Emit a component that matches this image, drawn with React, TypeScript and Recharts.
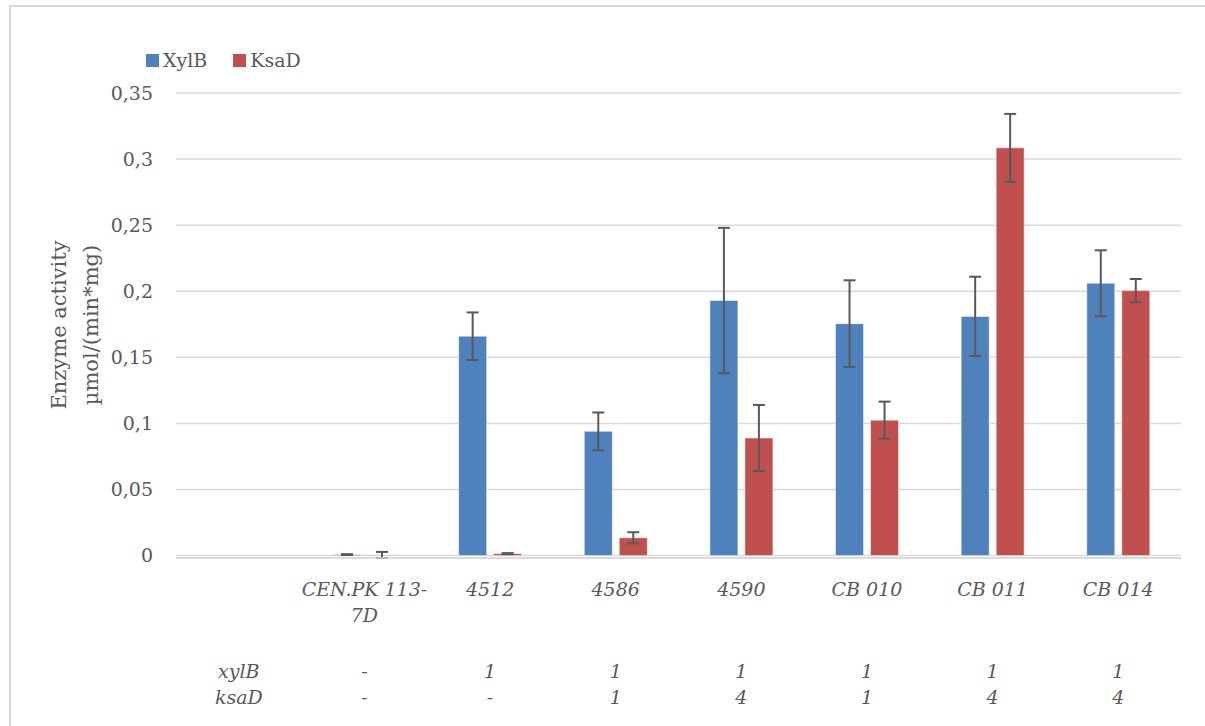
import { BarChart, Bar, XAxis, YAxis, CartesianGrid, ErrorBar } from 'recharts'

// Strains along the x axis (first slot is left empty for the row captions)
const categories = ['', 'CEN.PK 113-7D', '4512', '4586', '4590', 'CB 010', 'CB 011', 'CB 014']
const categoryLines = [[''], ['CEN.PK 113-', '7D'], ['4512'], ['4586'], ['4590'], ['CB 010'], ['CB 011'], ['CB 014']]

// Enzyme activity, µmol/(min*mg)
const xylBValues = [null, 0.0008, 0.166, 0.094, 0.193, 0.1755, 0.181, 0.206]
const xylBErrors = [null, 0.0003, 0.018, 0.0143, 0.055, 0.0328, 0.03, 0.025]
const ksaDValues = [null, 0.0005, 0.0015, 0.0135, 0.089, 0.1025, 0.3085, 0.2005]
const ksaDErrors = [null, 0.0023, 0.0004, 0.0042, 0.025, 0.014, 0.0257, 0.0088]

// Gene copy table under the axis
const rowLabels = ['xylB', 'ksaD']
const xylBCopies = ['', '-', '1', '1', '1', '1', '1', '1']
const ksaDCopies = ['', '-', '-', '1', '4', '1', '4', '4']

const yTicks = [0, 0.05, 0.1, 0.15, 0.2, 0.25, 0.3, 0.35]

const BLUE = '#4F81BD'
const RED = '#C0504D'
const TEXT = '#595959'
const GRID = '#d9d9d9'
const FONT = '"DejaVu Serif", serif'

const data = categories.map((name, i) => ({
  name,
  xylB: xylBValues[i],
  xylBErr: xylBErrors[i],
  ksaD: ksaDValues[i],
  ksaDErr: ksaDErrors[i],
}))

function StrainTick(props: any) {
  const { x, y, payload } = props
  const i = payload.index
  const lines = categoryLines[i]
  const first = i === 0
  return (
    <g fontFamily={FONT} fontSize={19} fontStyle="italic" fill={TEXT} textAnchor="middle">
      {lines.map((l, k) => (
        <text key={k} x={x} y={y + 38 + k * 26}>{l}</text>
      ))}
      <text x={x} y={y + 120}>{first ? rowLabels[0] : xylBCopies[i]}</text>
      <text x={x} y={y + 146}>{first ? rowLabels[1] : ksaDCopies[i]}</text>
    </g>
  )
}

function LegendBox() {
  const items = [
    { label: 'XylB', color: BLUE },
    { label: 'KsaD', color: RED },
  ]
  return (
    <div style={{ position: 'absolute', left: 146, top: 49, display: 'flex', alignItems: 'center', fontFamily: FONT, fontSize: 19, color: TEXT }}>
      {items.map(it => (
        <div key={it.label} style={{ display: 'flex', alignItems: 'center', marginRight: 26 }}>
          <span style={{ width: 13, height: 13, background: it.color, display: 'inline-block', marginRight: 4 }} />
          <span>{it.label}</span>
        </div>
      ))}
    </div>
  )
}

export default function App() {
  return (
    <div style={{ position: 'fixed', left: 0, top: 0, width: 1205, height: 726, background: '#fff', overflow: 'hidden' }}>
      <div style={{ position: 'absolute', left: 9, top: 5, width: 1210, height: 740, border: `2px solid ${GRID}` }} />
      <div style={{ position: 'absolute', left: 0, top: 0 }}>
        <BarChart
          width={1205}
          height={726}
          data={data}
          margin={{ top: 93, right: 24, bottom: 138, left: 0 }}
          barCategoryGap="25%"
          barGap={7}
        >
          <CartesianGrid vertical={false} stroke={GRID} strokeWidth={1.5} />
          <XAxis
            dataKey="name"
            height={30}
            tick={<StrainTick />}
            tickSize={0}
            tickMargin={0}
            interval={0}
            axisLine={{ stroke: GRID, strokeWidth: 1.5 }}
            tickLine={false}
          />
          <YAxis
            width={176}
            domain={[0, 0.35]}
            ticks={yTicks}
            tickFormatter={(v: number) => String(v).replace('.', ',')}
            tick={{ fill: TEXT, fontSize: 19, fontFamily: FONT }}
            tickSize={0}
            tickMargin={23}
            axisLine={false}
            tickLine={false}
            label={{
              content: () => (
                <g fontFamily={FONT} fontSize={21} fill={TEXT} textAnchor="middle">
                  <text transform="translate(59,325) rotate(-90)" dominantBaseline="central">Enzyme activity</text>
                  <text transform="translate(91,325) rotate(-90)" dominantBaseline="central">µmol/(min*mg)</text>
                </g>
              ),
            }}
          />
          <Bar dataKey="xylB" name="XylB" fill={BLUE} stroke="#ffffff" strokeOpacity={0.5} strokeWidth={1} isAnimationActive={false}>
            <ErrorBar dataKey="xylBErr" width={6} stroke={TEXT} strokeWidth={2} direction="y" />
          </Bar>
          <Bar dataKey="ksaD" name="KsaD" fill={RED} stroke="#ffffff" strokeOpacity={0.5} strokeWidth={1} isAnimationActive={false}>
            <ErrorBar dataKey="ksaDErr" width={6} stroke={TEXT} strokeWidth={2} direction="y" />
          </Bar>
        </BarChart>
      </div>
      <LegendBox />
    </div>
  )
}
